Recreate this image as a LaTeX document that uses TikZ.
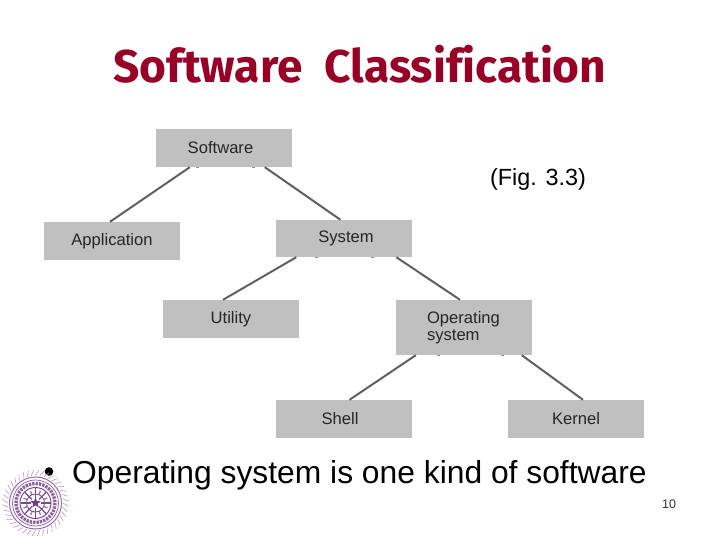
\documentclass[tikz,border=0pt]{standalone}
\usepackage{fontspec}
\setmainfont{Liberation Sans}
\newfontfamily\titlefont[Ligatures=NoCommon]{Fira Sans}
\usetikzlibrary{shapes.geometric,calc}
\definecolor{boxgray}{RGB}{192,192,192}
\definecolor{linegray}{RGB}{96,96,96}
\definecolor{titlered}{RGB}{153,0,38}
\definecolor{sealpurple}{RGB}{125,70,150}
\tikzset{
  x=1pt,y=-1pt,
  cls/.style={fill=boxgray,draw=none,inner sep=0pt,minimum width=136pt,font=\fontsize{16.6}{17}\selectfont,text=black!85,align=left},
  conn/.style={draw=linegray,line width=2pt},
  tick/.style={draw=linegray!70,line width=1pt},
  seal/.style={draw=sealpurple,line width=.6pt}
}
\begin{document}
\begin{tikzpicture}
\useasboundingbox (0,0) rectangle (720,540);
\node[text=titlered,font=\titlefont\bfseries\fontsize{46}{50}\selectfont] (title) at (360,64.5) {Software\hspace{.25em} Classification};
\node[anchor=center,minimum height=38pt,cls] (soft) at (224,148) {Software\hspace*{7pt}};
\node[anchor=center,minimum height=38pt,cls] (app) at (112,241) {Application};
\node[anchor=center,minimum height=37pt,cls] (sys) at (343.5,238.5) {\hspace*{5pt}System};
\node[anchor=center,minimum height=38pt,cls] (util) at (231,319) {Utility};
\node[anchor=center,minimum height=55pt,cls,text width=136pt,inner xsep=0pt] (os) at (464,327.5) {\hspace*{31pt}Operating\\[0pt]\hspace*{31pt}system};
\node[anchor=center,minimum height=38pt,cls] (shell) at (343.5,419) {Shell\hspace*{7pt}};
\node[anchor=center,minimum height=38pt,cls] (kernel) at (576,419) {Kernel};
\node[font=\fontsize{23.4}{26}\selectfont] (fig) at (538,179) {(Fig. 3.3)};
\node[anchor=base west,font=\fontsize{31.8}{36}\selectfont,inner sep=0pt] (bul) at (72,483) {Operating system is one kind of software};
\fill (49,471.5) circle (4.3pt);
\node[font=\fontsize{12.5}{14}\selectfont,text=black!80] (num) at (669,504) {10};
\draw[conn] ([xshift=34pt]soft.south west) -- ([xshift=-2pt]app.north);
\draw[conn] ([xshift=109pt]soft.south west) -- ([xshift=-3pt]sys.north);
\draw[conn] ([xshift=21pt]sys.south west) -- ([xshift=-8pt]util.north);
\draw[conn] ([xshift=121pt]sys.south west) -- ([xshift=-4pt]os.north);
\draw[conn] ([xshift=20pt]os.south west) -- ([xshift=6pt]shell.north);
\draw[conn] ([xshift=126pt]os.south west) -- ([xshift=7pt]kernel.north);
\foreach \n/\a/\b in {soft/40/96,sys/40/96,os/41/105}{
  \draw[tick] ([xshift=\a pt]\n.south west) -- ++(3,0);
  \draw[tick] ([xshift=\b pt]\n.south west) -- ++(3,0);
}
% seal
\coordinate (sc) at (35.5,503);
\foreach \i in {0,9,...,351}{
  \draw[sealpurple!55,line width=.6pt] ($(sc)+(\i:27.5)$) -- ($(sc)+(\i+6:33)$);
}
\draw[seal,line width=1pt,draw=sealpurple!80] (sc) circle (26);
\draw[seal,line width=.8pt,draw=sealpurple!80] (sc) circle (23);
\draw[sealpurple!85,line width=3.4pt,dash pattern=on 2.4pt off 1pt] (sc) circle (19.5);
\draw[seal,line width=1pt] (sc) circle (15.5);
\foreach \i in {0,45,...,315}{
  \draw[sealpurple,line width=1.1pt] ($(sc)+(\i:5)$) -- ($(sc)+(\i:15)$);
}
\foreach \i in {22,67,...,337}{
  \draw[sealpurple!70,line width=1.4pt] ($(sc)+(\i:9)$) -- ($(sc)+(\i:13)$);
}
\draw[seal,line width=.8pt] (sc) circle (9);
\node[star,star points=5,star point ratio=2.3,fill=sealpurple!90!black,inner sep=0pt,minimum size=11pt] (st) at (sc) {};
\end{tikzpicture}
\end{document}
